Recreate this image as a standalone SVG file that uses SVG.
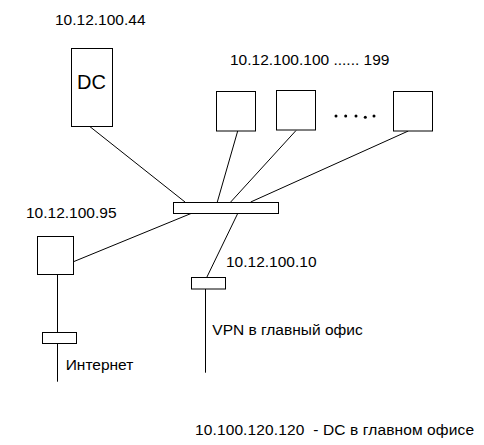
<svg xmlns="http://www.w3.org/2000/svg" width="484" height="445" viewBox="0 0 484 445">
<style>
.n{fill:#fff;stroke:#000;stroke-width:1}
.c line{stroke:#000;stroke-width:1}
text{font-family:"Liberation Sans",Arial,sans-serif;font-size:15.5px;fill:#000}
</style>
<rect width="484" height="445" fill="#fff"/>
<g class="c" id="connectors">
<line x1="90" y1="126.7" x2="185" y2="202"/>
<line x1="237.7" y1="131" x2="217.3" y2="202"/>
<line x1="296" y1="130.5" x2="230.7" y2="202"/>
<line x1="408.3" y1="131" x2="250.7" y2="202"/>
<line x1="191" y1="213.5" x2="73.5" y2="261.7"/>
<line x1="237.7" y1="213.5" x2="206.7" y2="277.5"/>
<line x1="57.5" y1="274.5" x2="57.5" y2="332.5"/>
<line x1="57.5" y1="343.5" x2="57.5" y2="381.7"/>
<line x1="205.5" y1="289" x2="205.5" y2="372.7"/>
</g>
<g id="dc">
<rect class="n" x="71.5" y="48.5" width="41" height="78"/>
<text x="77" y="89" style="font-size:20px">DC</text>
<text x="55" y="25">10.12.100.44</text>
</g>
<g id="ws1"><rect class="n" x="216.5" y="91.5" width="39" height="39.5"/></g>
<g id="ws2"><rect class="n" x="276.5" y="90.5" width="39" height="39.5"/></g>
<g id="ws3"><rect class="n" x="393.5" y="91.5" width="39" height="39.5"/></g>
<g id="dots" fill="#000">
<circle cx="336" cy="116" r="1.5"/>
<circle cx="345.7" cy="116" r="1.5"/>
<circle cx="356" cy="116" r="1.5"/>
<circle cx="365.3" cy="117.2" r="1.5"/>
<circle cx="374" cy="116" r="1.5"/>
</g>
<g id="ws-label"><text x="230" y="65">10.12.100.100 ...... 199</text></g>
<g id="switch"><rect class="n" x="173.5" y="202.5" width="105" height="11"/></g>
<g id="proxy">
<rect class="n" x="37.5" y="236.5" width="36" height="38"/>
<text x="26" y="218.3">10.12.100.95</text>
</g>
<g id="inet">
<rect class="n" x="42.5" y="332.5" width="34" height="11"/>
<text x="65.7" y="370">Интернет</text>
</g>
<g id="vpn">
<rect class="n" x="191.5" y="277.5" width="34" height="11.5"/>
<text x="226" y="267.3">10.12.100.10</text>
<text x="212.3" y="335">VPN в главный офис</text>
</g>
<g id="note"><text x="195" y="435" xml:space="preserve" textLength="279" lengthAdjust="spacing">10.100.120.120  - DC в главном офисе</text></g>
</svg>
